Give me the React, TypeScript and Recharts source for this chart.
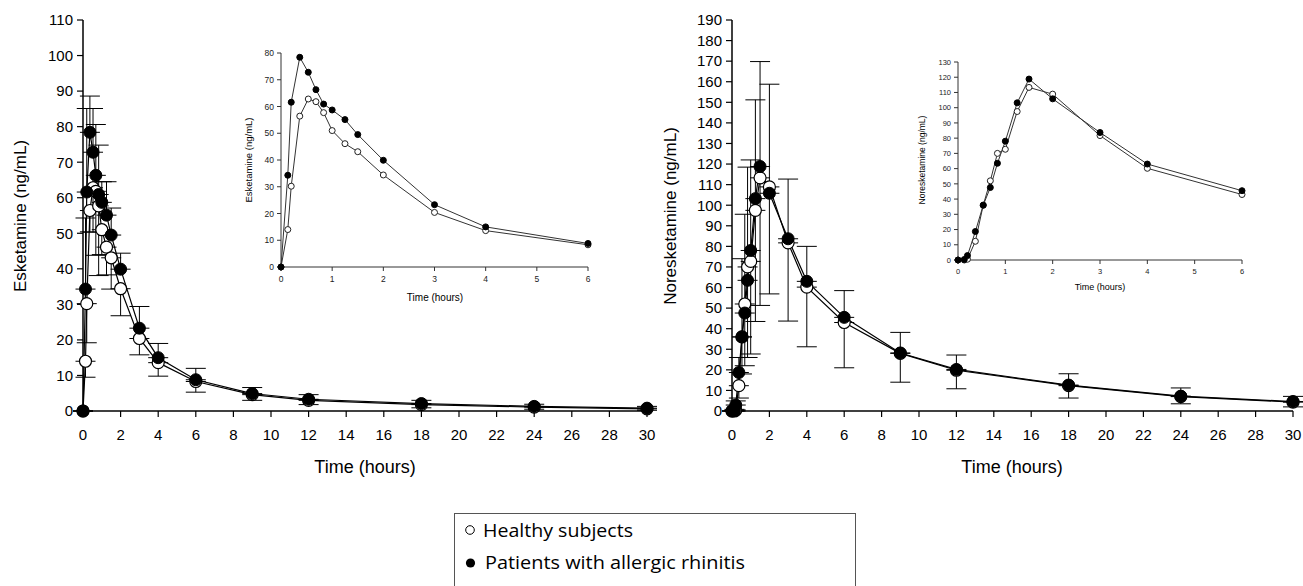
import React from 'react';
import { ComposedChart, Line, XAxis, YAxis, ErrorBar } from 'recharts';

// ---- data ----
const times = [0, 0.133, 0.2, 0.367, 0.533, 0.683, 0.833, 1, 1.25, 1.5, 2, 3, 4, 6, 9, 12, 18, 24, 30];

const eskHealthy = [0, 14, 30.2, 56.4, 62.8, 61.8, 57.7, 51, 46.1, 43.1, 34.4, 20.4, 13.6, 8.3, 4.6, 3.0, 1.8, 1.1, 0.6];
const eskPatients = [0, 34.3, 61.6, 78.4, 72.8, 66.3, 60.9, 58.7, 55.1, 49.5, 39.9, 23.3, 15.0, 8.8, 4.9, 3.3, 2.1, 1.3, 0.8];
const eskHealthySD = [0, 4.5, 11, 6, 12.5, 18, 19.6, 7, 7.8, 8.8, 7.6, 4.6, 3.8, 3.0, 1.6, 1.2, 0.9, 0.6, 0.4];
const eskPatientsSD = [0, 20, 23.5, 10.2, 12.3, 14.3, 13.9, 5.8, 9.4, 7.6, 4.5, 6.1, 4.0, 3.2, 1.7, 1.3, 0.9, 0.6, 0.5];

const norHealthy = [0, 0, 0.5, 12.3, 36, 52, 70, 72.7, 97.5, 113.3, 108.9, 81.7, 60.2, 43, 28, 19.8, 12.3, 7, 4.3];
const norPatients = [0, 0.3, 2.9, 18.7, 36, 47.6, 63.5, 78, 103.2, 118.8, 105.8, 83.7, 63, 45.5, 28.2, 20.2, 12.6, 7.2, 4.6];
const norHealthySD = [0, 0, 0.5, 6, 18, 30, 44, 45, 54, 62, 52, 38, 29, 22, 14, 9, 6, 3.5, 2.3];
const norPatientsSD = [0, 0.5, 2, 7.3, 38, 48, 55, 44, 48, 51, 53, 29, 17, 13, 10, 7, 5.5, 4, 2.5];

const mainXTicks = [0, 2, 4, 6, 8, 10, 12, 14, 16, 18, 20, 22, 24, 26, 28, 30];
const eskYTicks = [0, 10, 20, 30, 40, 50, 60, 70, 80, 90, 100, 110];
const norYTicks = [0, 10, 20, 30, 40, 50, 60, 70, 80, 90, 100, 110, 120, 130, 140, 150, 160, 170, 180, 190];
const insetXTicks = [0, 1, 2, 3, 4, 5, 6];
const eskInsetYTicks = [0, 10, 20, 30, 40, 50, 60, 70, 80];
const norInsetYTicks = [0, 10, 20, 30, 40, 50, 60, 70, 80, 90, 100, 110, 120, 130];

const legendLabels = ['Healthy subjects', 'Patients with allergic rhinitis'];

// ---- helpers ----
const FONT = '"Liberation Sans", Arial, sans-serif';
const LEGEND_FONT = '"Open Sans", "Noto Sans", sans-serif';
const INSET_COUNT = 14; // up to 6 h

function buildMain(h: number[], p: number[], hsd: number[], psd: number[]) {
  return times.map((t, i) => ({ t, h: h[i], p: p[i], hErr: [hsd[i], 0], pErr: [0, psd[i]] }));
}
function buildInset(h: number[], p: number[]) {
  return times.slice(0, INSET_COUNT).map((t, i) => ({ t, h: h[i], p: p[i] }));
}

const eskMain = buildMain(eskHealthy, eskPatients, eskHealthySD, eskPatientsSD);
const norMain = buildMain(norHealthy, norPatients, norHealthySD, norPatientsSD);
const eskInset = buildInset(eskHealthy, eskPatients);
const norInset = buildInset(norHealthy, norPatients);

function title(text: string, x: number, y: number, size: number, angle = 0) {
  return () => (
    <text
      x={x}
      y={y}
      transform={angle ? `rotate(${angle} ${x} ${y})` : undefined}
      textAnchor="middle"
      dominantBaseline="central"
      fontSize={size}
      fontFamily={FONT}
      fill="#000"
    >
      {text}
    </text>
  );
}

type MainProps = {
  data: any[];
  left: number;
  width: number;
  yAxisWidth: number;
  marginRight: number;
  yMax: number;
  yTicks: number[];
  yTitle: string;
  yTitleX: number;
  xTitleX: number;
};

function MainChart(props: MainProps) {
  const { data, left, width, yAxisWidth, marginRight, yMax, yTicks, yTitle, yTitleX, xTitleX } = props;
  const tickStyle = { fontSize: 15, fill: '#000', fontFamily: FONT };
  return (
    <div style={{ position: 'absolute', left, top: 0 }}>
      <ComposedChart width={width} height={480} data={data} margin={{ top: 20, right: marginRight, bottom: 0, left: 0 }}>
        <XAxis
          dataKey="t"
          type="number"
          domain={[0, 30]}
          ticks={mainXTicks}
          interval={0}
          height={69}
          tick={tickStyle}
          tickSize={6}
          tickMargin={12}
          axisLine={{ stroke: '#000', strokeWidth: 1.5 }}
          tickLine={{ stroke: '#000', strokeWidth: 1.2 }}
          label={title('Time (hours)', xTitleX, 467, 18)}
        />
        <YAxis
          type="number"
          domain={[0, yMax]}
          ticks={yTicks}
          interval={0}
          width={yAxisWidth}
          tick={tickStyle}
          tickSize={6}
          tickMargin={4}
          axisLine={{ stroke: '#000', strokeWidth: 1.5 }}
          tickLine={{ stroke: '#000', strokeWidth: 1.2 }}
          label={title(yTitle, yTitleX, 216, 17, -90)}
        />
        <Line
          dataKey="h"
          stroke="#000"
          strokeWidth={1.2}
          isAnimationActive={false}
          dot={{ r: 6, fill: '#fff', stroke: '#000', strokeWidth: 1.2 }}
          activeDot={false}
        >
          <ErrorBar dataKey="hErr" width={10} stroke="#000" strokeWidth={1} direction="y" />
        </Line>
        <Line
          dataKey="p"
          stroke="#000"
          strokeWidth={1.2}
          isAnimationActive={false}
          dot={{ r: 6, fill: '#000', stroke: '#000', strokeWidth: 1 }}
          activeDot={false}
        >
          <ErrorBar dataKey="pErr" width={10} stroke="#000" strokeWidth={1} direction="y" />
        </Line>
      </ComposedChart>
    </div>
  );
}

type InsetProps = {
  data: any[];
  left: number;
  top: number;
  width: number;
  height: number;
  yAxisWidth: number;
  marginTop: number;
  marginRight: number;
  xAxisHeight: number;
  yMax: number;
  yTicks: number[];
  yTitle: string;
  yTitleX: number;
  yTitleY: number;
  xTitleX: number;
  xTitleY: number;
  fontSize: number;
};

function InsetChart(p: InsetProps) {
  const tickStyle = { fontSize: p.fontSize, fill: '#222', fontFamily: FONT };
  return (
    <div style={{ position: 'absolute', left: p.left, top: p.top }}>
      <ComposedChart width={p.width} height={p.height} data={p.data} margin={{ top: p.marginTop, right: p.marginRight, bottom: 0, left: 0 }}>
        <XAxis
          dataKey="t"
          type="number"
          domain={[0, 6]}
          ticks={insetXTicks}
          interval={0}
          height={p.xAxisHeight}
          tick={tickStyle}
          tickSize={4}
          tickMargin={5}
          axisLine={{ stroke: '#333' }}
          tickLine={{ stroke: '#333' }}
          label={title('Time (hours)', p.xTitleX, p.xTitleY, p.fontSize + 1.5)}
        />
        <YAxis
          type="number"
          domain={[0, p.yMax]}
          ticks={p.yTicks}
          interval={0}
          width={p.yAxisWidth}
          tick={tickStyle}
          tickSize={4}
          tickMargin={3}
          axisLine={{ stroke: '#333' }}
          tickLine={{ stroke: '#333' }}
          label={title(p.yTitle, p.yTitleX, p.yTitleY, p.fontSize + 1, -90)}
        />
        <Line
          dataKey="h"
          stroke="#333"
          strokeWidth={1}
          isAnimationActive={false}
          dot={{ r: 3, fill: '#fff', stroke: '#222', strokeWidth: 1 }}
          activeDot={false}
        />
        <Line
          dataKey="p"
          stroke="#333"
          strokeWidth={1}
          isAnimationActive={false}
          dot={{ r: 3, fill: '#000', stroke: '#000', strokeWidth: 1 }}
          activeDot={false}
        />
      </ComposedChart>
    </div>
  );
}

function Legend() {
  return (
    <svg style={{ position: 'absolute', left: 454, top: 513 }} width={404} height={73}>
      <rect x={0.5} y={0.5} width={401} height={80} fill="#fff" stroke="#555" strokeWidth={1} />
      <circle cx={16} cy={17} r={4.3} fill="#fff" stroke="#000" strokeWidth={1} />
      <text x={29} y={23.5} fontSize={19} fontFamily={LEGEND_FONT} fill="#000" textLength={150} lengthAdjust="spacingAndGlyphs">
        {legendLabels[0]}
      </text>
      <circle cx={16.5} cy={50} r={4.6} fill="#000" />
      <text x={31} y={56} fontSize={19} fontFamily={LEGEND_FONT} fill="#000" textLength={260} lengthAdjust="spacingAndGlyphs">
        {legendLabels[1]}
      </text>
    </svg>
  );
}

export default function App() {
  return (
    <div style={{ position: 'absolute', left: 0, top: 0, width: 1303, height: 586, background: '#fff', overflow: 'hidden' }}>
      <MainChart
        data={eskMain}
        left={0}
        width={660}
        yAxisWidth={83}
        marginRight={13}
        yMax={110}
        yTicks={eskYTicks}
        yTitle="Esketamine (ng/mL)"
        yTitleX={20}
        xTitleX={365}
      />
      <MainChart
        data={norMain}
        left={655}
        width={648}
        yAxisWidth={77}
        marginRight={10}
        yMax={190}
        yTicks={norYTicks}
        yTitle="Noresketamine (ng/mL)"
        yTitleX={15}
        xTitleX={357}
      />
      <InsetChart
        data={eskInset}
        left={230}
        top={40}
        width={370}
        height={270}
        yAxisWidth={51}
        marginTop={13}
        marginRight={12}
        xAxisHeight={43}
        yMax={80}
        yTicks={eskInsetYTicks}
        yTitle="Esketamine (ng/mL)"
        yTitleX={18}
        yTitleY={120}
        xTitleX={205}
        xTitleY={257}
        fontSize={8.5}
      />
      <InsetChart
        data={norInset}
        left={905}
        top={45}
        width={350}
        height={260}
        yAxisWidth={53}
        marginTop={17}
        marginRight={13}
        xAxisHeight={45}
        yMax={130}
        yTicks={norInsetYTicks}
        yTitle="Noresketamine (ng/mL)"
        yTitleX={17}
        yTitleY={115}
        xTitleX={195}
        xTitleY={242}
        fontSize={7.5}
      />
      <Legend />
    </div>
  );
}
